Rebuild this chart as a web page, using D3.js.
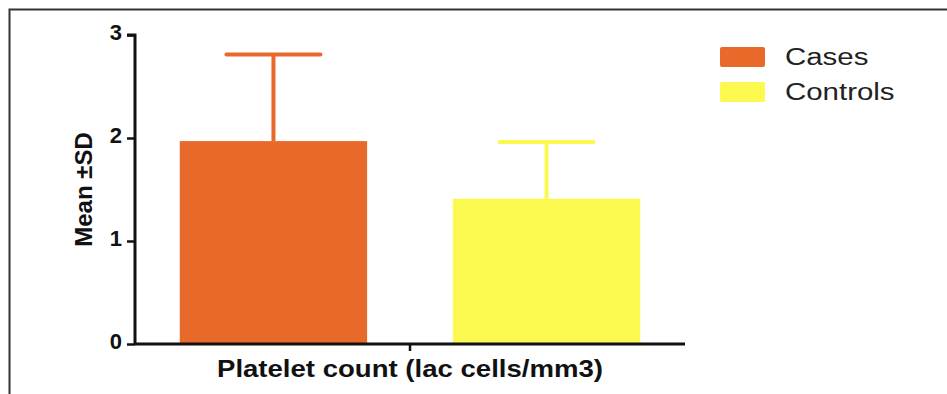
<!DOCTYPE html>
<html>
<head>
<meta charset="utf-8">
<script src="https://cdn.jsdelivr.net/npm/d3@7"></script>
<style>
  body { margin: 0; background: #fff; }
  svg { display: block; font-family: "Liberation Sans", Arial, sans-serif; }
</style>
</head>
<body>
<svg id="chart"></svg>
<script>
// data
const groups = ["Platelet count (lac cells/mm3)"];
const series = ["Cases", "Controls"];
const means = [1.97, 1.41];
const sds = [0.84, 0.55];
const yTicks = [0, 1, 2, 3];
const seriesColors = ["#E9692B", "#FBF850"];

const width = 947, height = 394;
const margin = { top: 35, right: 262, bottom: 50, left: 135 };

const svg = d3.select("#chart")
  .attr("width", width)
  .attr("height", height);

// outer frame (left + top only, as in the figure)
svg.append("path")
  .attr("d", `M9.5,394 V9.5 H947`)
  .attr("fill", "none")
  .attr("stroke", "#333")
  .attr("stroke-width", 2);

const x0 = d3.scaleBand()
  .domain(groups)
  .range([margin.left, width - margin.right])
  .padding(0);

const x1 = d3.scaleBand()
  .domain(series)
  .range([0, x0.bandwidth()])
  .paddingInner(0.314)
  .paddingOuter(0.164);

const y = d3.scaleLinear()
  .domain([0, 3])
  .range([height - margin.bottom, margin.top]);

const g = svg.append("g");

const rows = series.map((s, i) => ({ name: s, mean: means[i], sd: sds[i], color: seriesColors[i] }));

const bars = g.selectAll(".grp")
  .data(rows)
  .enter()
  .append("g")
  .attr("transform", d => `translate(${x0(groups[0])},0)`);

// error bars first so the bar covers the stem
bars.append("line")
  .attr("x1", d => x1(d.name) + x1.bandwidth() / 2)
  .attr("x2", d => x1(d.name) + x1.bandwidth() / 2)
  .attr("y1", d => y(d.mean))
  .attr("y2", d => y(d.mean + d.sd))
  .attr("stroke", d => d.color)
  .attr("stroke-width", 4);

bars.append("line")
  .attr("x1", d => x1(d.name) + x1.bandwidth() / 2 - 47)
  .attr("x2", d => x1(d.name) + x1.bandwidth() / 2 + 47)
  .attr("y1", d => y(d.mean + d.sd))
  .attr("y2", d => y(d.mean + d.sd))
  .attr("stroke", d => d.color)
  .attr("stroke-width", 4)
  .attr("stroke-linecap", "round");

bars.append("rect")
  .attr("x", d => x1(d.name))
  .attr("width", x1.bandwidth())
  .attr("y", d => y(d.mean))
  .attr("height", d => y(0) - y(d.mean))
  .attr("fill", d => d.color);

// y axis
const yAxis = svg.append("g")
  .attr("transform", `translate(${margin.left},0)`)
  .call(d3.axisLeft(y).tickValues(yTicks).tickFormat(d3.format("d")).tickSize(8).tickPadding(5));
yAxis.select(".domain").attr("stroke", "#111").attr("stroke-width", 3).attr("d", `M-8,${y(3)}H0V${y(0)}`);
yAxis.selectAll(".tick line").attr("stroke", "#111").attr("stroke-width", 2.5);
yAxis.selectAll(".tick text")
  .attr("fill", "#111")
  .attr("font-size", "22px")
  .attr("font-weight", "bold")
  .attr("dy", "0.22em")
  .attr("font-family", "Liberation Sans, Arial, sans-serif");

// x axis
const xAxis = svg.append("g")
  .attr("transform", `translate(0,${y(0)})`)
  .call(d3.axisBottom(x0).tickSize(7).tickFormat(""));
xAxis.select(".domain").attr("stroke", "#111").attr("stroke-width", 3).attr("d", `M${margin.left},0H${width - margin.right}`);
xAxis.selectAll(".tick line").attr("stroke", "#111").attr("stroke-width", 2.5);

// axis titles
svg.append("text")
  .attr("x", x0(groups[0]) + x0.bandwidth() / 2)
  .attr("y", 377)
  .attr("text-anchor", "middle")
  .attr("font-size", "24px")
  .attr("font-weight", "bold")
  .attr("fill", "#111")
  .attr("textLength", 386)
  .attr("lengthAdjust", "spacingAndGlyphs")
  .text(groups[0]);

svg.append("text")
  .attr("transform", `translate(92, ${(y(0) + y(3)) / 2}) rotate(-90)`)
  .attr("text-anchor", "middle")
  .attr("font-size", "24px")
  .attr("font-weight", "bold")
  .attr("fill", "#111")
  .text("Mean ±SD");

// legend
const legend = svg.append("g")
  .attr("transform", "translate(720,47)");

const item = legend.selectAll(".item")
  .data(rows)
  .enter()
  .append("g")
  .attr("transform", (d, i) => `translate(0,${i * 35})`);

item.append("rect")
  .attr("width", 45)
  .attr("height", 20)
  .attr("rx", 2)
  .attr("fill", d => d.color);

item.append("text")
  .attr("transform", "translate(65,10) scale(1.28,1)")
  .attr("dy", "0.36em")
  .attr("font-size", "23px")
  .attr("fill", "#222")
  .text(d => d.name);
</script>
</body>
</html>
